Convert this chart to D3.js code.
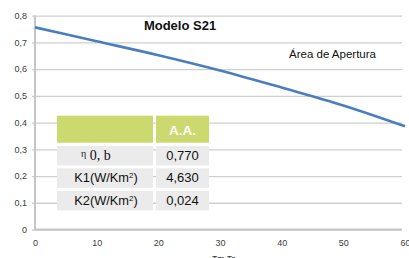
<!DOCTYPE html>
<html>
<head>
<meta charset="utf-8">
<script src="https://cdn.jsdelivr.net/npm/d3@7"></script>
<style>
    body { margin: 0; background: #ffffff; }
    svg { display: block; }
</style>
</head>
<body>
<div id="chart"></div>
<script>
// datos de la curva de rendimiento
const tempDiff = [0, 10, 20, 30, 40, 50, 60]
const efficiency = [0.756, 0.704, 0.652, 0.595, 0.531, 0.464, 0.386]
const xTicks = [0, 10, 20, 30, 40, 50, 60]
const yTicks = [0, 0.1, 0.2, 0.3, 0.4, 0.5, 0.6, 0.7, 0.8]

// tabla de parámetros
const tableHead = ['', 'A.A.']
const paramNames = ['η', 'K1(W/Km', 'K2(W/Km']
const paramValues = ['0,770', '4,630', '0,024']

const width = 409
const height = 258
const plotLeft = 35
const plotRight = 405
const plotTop = 15.6
const plotBottom = 229.5
const gridEnd = 402

const svg = d3.select('#chart').append('svg')
    .attr('width', width)
    .attr('height', height)

const x = d3.scaleLinear().domain([0, 60]).range([plotLeft, plotRight])
const y = d3.scaleLinear().domain([0, 0.8]).range([plotBottom, plotTop])

const fmt = d3.formatLocale({ decimal: ',', thousands: '.', grouping: [3], currency: ['', ''] }).format('.1f')

// eje Y + rejilla
const yAxis = svg.append('g')
    .attr('transform', `translate(${plotLeft - 3}, 0)`)
    .call(d3.axisLeft(y)
        .tickValues(yTicks)
        .tickSize(-(gridEnd - plotLeft + 3))
        .tickPadding(5)
        .tickFormat(d => d === 0 ? '0' : fmt(d)))
yAxis.select('.domain').remove()
yAxis.selectAll('.tick line')
    .attr('stroke', '#cfcfcf')
    .attr('stroke-width', 1.3)
yAxis.selectAll('.tick text')
    .attr('fill', '#404040')
    .attr('font-family', 'Liberation Sans, Arial, sans-serif')
    .attr('font-size', 9)

// eje X
const xAxis = svg.append('g')
    .attr('transform', `translate(0, ${plotBottom})`)
    .call(d3.axisBottom(x)
        .tickValues(xTicks)
        .tickSize(0)
        .tickPadding(10.5)
        .tickFormat(d => d))
xAxis.select('.domain').remove()
xAxis.selectAll('.tick text')
    .attr('fill', '#404040')
    .attr('font-family', 'Liberation Sans, Arial, sans-serif')
    .attr('font-size', 9)

// líneas de ejes
svg.append('line')
    .attr('x1', plotLeft - 1).attr('x2', gridEnd)
    .attr('y1', plotBottom).attr('y2', plotBottom)
    .attr('stroke', '#c6c6c6')
    .attr('stroke-width', 2)
svg.append('line')
    .attr('x1', plotLeft).attr('x2', plotLeft)
    .attr('y1', plotTop).attr('y2', plotBottom)
    .attr('stroke', '#c6c6c6')
    .attr('stroke-width', 2)

// título del eje X (cortado abajo, como en el original)
svg.append('text')
    .attr('x', (plotLeft + plotRight) / 2 + 4)
    .attr('y', 261)
    .attr('text-anchor', 'middle')
    .attr('font-family', 'Liberation Sans, Arial, sans-serif')
    .attr('font-size', 8)
    .attr('font-weight', 'bold')
    .attr('fill', '#404040')
    .text('Tm-Ta')

// curva
const line = d3.line()
    .x((d, i) => x(tempDiff[i]))
    .y(d => y(d))
    .curve(d3.curveMonotoneX)

svg.append('path')
    .datum(efficiency)
    .attr('fill', 'none')
    .attr('stroke', '#4a7ebf')
    .attr('stroke-width', 2.6)
    .attr('d', line)

// títulos
svg.append('text')
    .attr('x', 180)
    .attr('y', 30)
    .attr('text-anchor', 'middle')
    .attr('font-family', 'Liberation Sans, Arial, sans-serif')
    .attr('font-size', 13)
    .attr('font-weight', 'bold')
    .attr('fill', '#111')
    .text('Modelo S21')

svg.append('text')
    .attr('x', 289)
    .attr('y', 58)
    .attr('font-family', 'Liberation Sans, Arial, sans-serif')
    .attr('font-size', 11.5)
    .attr('fill', '#111')
    .text('Área de Apertura')

// tabla
const col0 = 57, col1 = 156, colEnd = 209, colSplit = 153
const headTop = 115.7, headBottom = 142.7
const rowTops = [146, 168.3, 191]
const rowH = 19.5

svg.append('rect')
    .attr('x', col0).attr('y', headTop)
    .attr('width', colSplit - col0).attr('height', headBottom - headTop)
    .attr('fill', '#cbd96e')
svg.append('rect')
    .attr('x', col1).attr('y', headTop)
    .attr('width', colEnd - col1).attr('height', headBottom - headTop)
    .attr('fill', '#cbd96e')
svg.append('text')
    .attr('x', (col1 + colEnd) / 2)
    .attr('y', 135)
    .attr('text-anchor', 'middle')
    .attr('font-family', 'Liberation Sans, Arial, sans-serif')
    .attr('font-size', 13.5)
    .attr('font-weight', 'bold')
    .attr('fill', '#ffffff')
    .text(tableHead[1])

const rows = svg.append('g').selectAll('g')
    .data(paramValues)
    .enter()
    .append('g')
    .attr('transform', (d, i) => `translate(0, ${rowTops[i]})`)

rows.append('rect')
    .attr('x', col0).attr('y', 0)
    .attr('width', colSplit - col0).attr('height', rowH)
    .attr('fill', '#ebebeb')
rows.append('rect')
    .attr('x', col1).attr('y', 0)
    .attr('width', colEnd - col1).attr('height', rowH)
    .attr('fill', '#ebebeb')

rows.append('text')
    .attr('x', (col1 + colEnd) / 2)
    .attr('y', 14)
    .attr('text-anchor', 'middle')
    .attr('font-family', 'Liberation Sans, Arial, sans-serif')
    .attr('font-size', 13)
    .attr('fill', '#111')
    .text(d => d)

rows.each(function (d, i) {
    let t = d3.select(this).append('text')
        .attr('y', 14)
        .attr('fill', '#111')
    if (i === 0) {
        t.attr('x', 81)
            .attr('font-family', 'Liberation Serif, Times New Roman, serif')
            .attr('font-size', 14)
        t.append('tspan').attr('font-size', 10).attr('dy', -3).text(paramNames[0])
        t.append('tspan').attr('dy', 3).text(' 0, b')
    } else {
        t.attr('x', (col0 + colSplit) / 2 + 1)
            .attr('text-anchor', 'middle')
            .attr('font-family', 'Liberation Sans, Arial, sans-serif')
            .attr('font-size', 12.8)
            .attr('font-weight', 500)
        t.append('tspan').text(paramNames[i])
        t.append('tspan').attr('font-size', 8).attr('dy', -4.5).text('2')
        t.append('tspan').attr('dy', 4.5).text(')')
    }
})
</script>
</body>
</html>
